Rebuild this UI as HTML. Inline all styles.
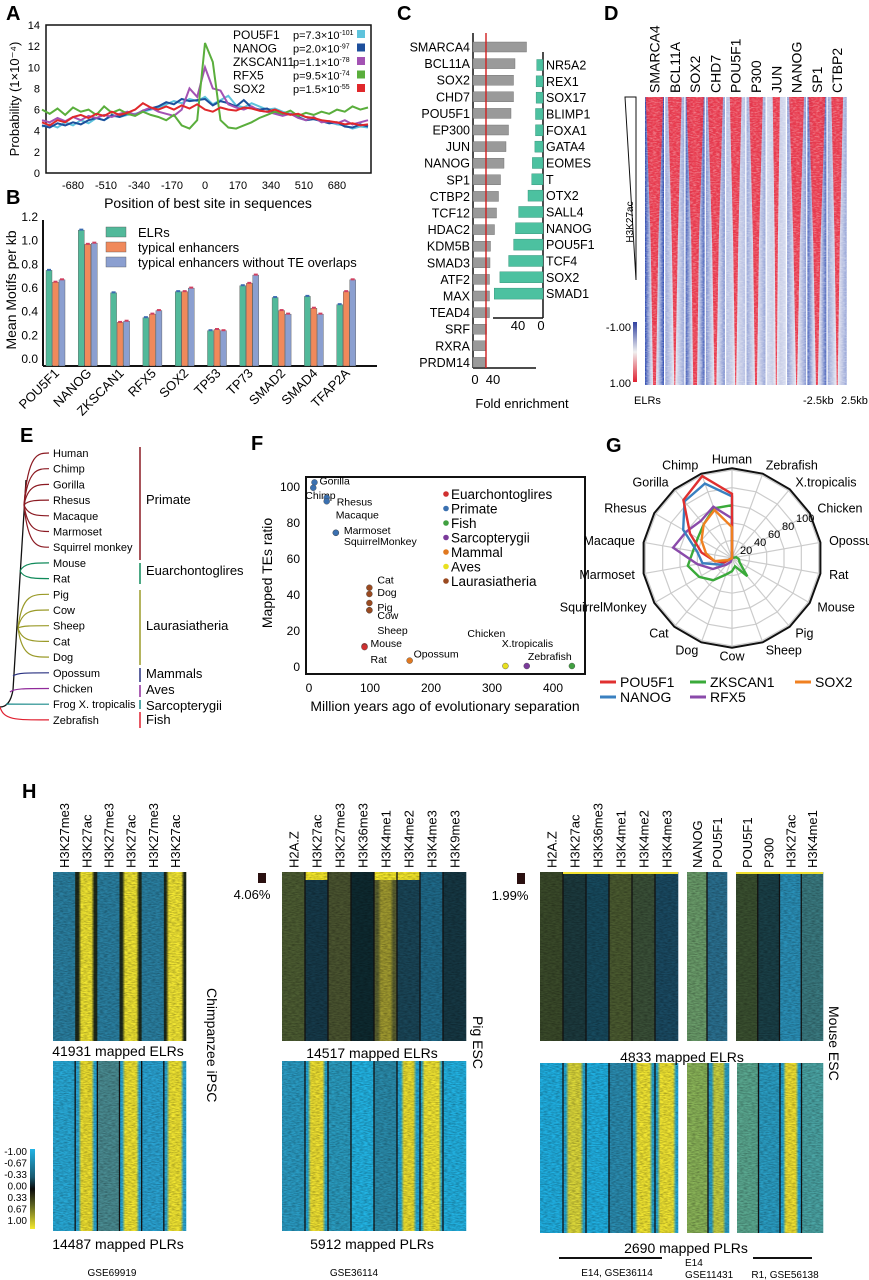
<!DOCTYPE html>
<html><head><meta charset="utf-8">
<style>
html,body{margin:0;padding:0;background:#fff;}
svg{display:block;font-family:"Liberation Sans",Arial,sans-serif;}
</style></head>
<body>
<svg id="fig" width="869" height="1280" viewBox="0 0 869 1280" xmlns="http://www.w3.org/2000/svg">
<defs>
<pattern id="hn" width="6" height="5" patternUnits="userSpaceOnUse">
<rect x="0" y="0" width="6" height="1" fill="#000" opacity="0.18"/>
<rect x="0" y="3" width="4" height="1" fill="#fff" opacity="0.10"/>
</pattern>
<filter id="streak" x="0" y="0" width="1" height="1">
<feTurbulence type="fractalNoise" baseFrequency="0.25 0.9" numOctaves="2" seed="3"/>
<feColorMatrix type="matrix" values="0 0 0 0 0  0 0 0 0 0  0 0 0 0 0  0 0 0 -1.6 1.1"/>
</filter>
<filter id="streakw" x="0" y="0" width="1" height="1">
<feTurbulence type="fractalNoise" baseFrequency="0.3 0.8" numOctaves="2" seed="7"/>
<feColorMatrix type="matrix" values="0 0 0 0 1  0 0 0 0 1  0 0 0 0 1  0 0 0 -1.8 1.1"/>
</filter>
</defs>
<g id="pA"></g>
<g id="pB"></g>
<g id="pC"></g>
<g id="pD"></g>
<g id="pE"></g>
<g id="pF"></g>
<g id="pG"></g>
<g id="pH"></g>
</svg>
<script>
// ===== Panel A data =====
const aSeriesNames = ["POU5F1","NANOG","ZKSCAN11","RFX5","SOX2"];
const aPvals = ["7.3×10","2.0×10","1.1×10","9.5×10","1.5×10"];
const aPexp = ["-101","-97","-78","-74","-55"];
const aYTicks = [0,2,4,6,8,10,12,14];
const aXTicks = [-680,-510,-340,-170,0,170,340,510,680];
const aPOU5F1 = [4.4,4.6,4.3,4.8,4.5,5.0,4.7,5.2,5.0,5.4,5.3,5.5,5.6,5.8,6.0,6.2,6.5,6.8,6.6,7.0,6.8,7.2,6.5,6.9,7.3,6.4,6.2,6.6,6.3,6.0,6.1,5.8,5.6,5.5,5.3,5.1,5.0,4.8,4.6,4.5,4.2,4.4,4.3];
const aNANOG = [4.5,4.3,4.7,4.5,4.8,4.6,5.0,5.2,5.0,5.5,5.3,5.6,5.5,5.9,6.1,6.3,6.7,6.5,7.0,6.8,6.9,7.0,6.4,6.8,6.6,6.3,6.9,6.2,6.0,6.1,5.7,5.5,5.6,5.3,5.0,5.1,4.9,4.7,4.8,4.4,4.3,4.6,4.4];
const aZKSCAN = [5.0,4.8,5.2,4.9,5.3,5.0,5.4,5.2,5.5,5.3,5.6,5.8,5.5,5.9,6.2,5.8,5.6,5.4,6.0,8.0,7.2,10.0,8.0,7.8,6.5,6.2,6.0,6.3,5.9,5.8,5.6,5.4,5.6,5.2,5.0,5.3,4.8,4.9,4.7,5.0,4.6,4.8,5.0];
const aRFX5 = [6.0,5.6,6.1,5.5,6.2,5.8,6.0,5.5,6.3,5.7,6.0,5.6,5.4,5.8,5.5,5.3,5.0,5.5,4.5,4.2,5.0,12.3,10.5,5.0,4.3,4.2,4.5,4.8,5.2,5.5,5.8,5.6,5.9,5.4,5.7,5.5,5.8,5.6,6.0,5.8,6.3,6.0,6.2];
const aSOX2 = [4.8,4.5,5.0,4.8,5.3,5.5,5.2,5.6,5.4,5.8,5.5,5.7,6.0,6.6,6.2,6.0,6.3,6.0,6.4,6.1,6.5,6.0,5.8,6.2,6.0,5.9,6.2,6.1,5.9,5.8,6.0,5.7,5.5,5.6,5.3,5.2,5.0,4.9,4.8,4.6,4.7,4.5,4.6];

// ===== Panel B data =====
const bCats = ["POU5F1","NANOG","ZKSCAN1","RFX5","SOX2","TP53","TP73","SMAD2","SMAD4","TFAP2A"];
const bELR = [0.80,1.14,0.61,0.40,0.62,0.29,0.67,0.57,0.58,0.51];
const bTyp = [0.70,1.02,0.36,0.43,0.62,0.30,0.69,0.46,0.48,0.62];
const bTypNoTE = [0.72,1.03,0.37,0.46,0.65,0.29,0.76,0.43,0.43,0.72];
const bYTicks = [0.0,0.2,0.4,0.6,0.8,1.0,1.2];
const bLegend = ["ELRs","typical enhancers","typical enhancers without TE overlaps"];

// ===== Panel C data =====
const cLeftCats = ["SMARCA4","BCL11A","SOX2","CHD7","POU5F1","EP300","JUN","NANOG","SP1","CTBP2","TCF12","HDAC2","KDM5B","SMAD3","ATF2","MAX","TEAD4","SRF","RXRA","PRDM14"];
const cLeftVals = [107,84,81,81,76,71,66,62,55,51,47,43,35,34,33,33,33,27,26,25];
const cRightCats = ["NR5A2","REX1","SOX17","BLIMP1","FOXA1","GATA4","EOMES","T","OTX2","SALL4","NANOG","POU5F1","TCF4","SOX2","SMAD1"];
const cRightVals = [10,11,11,12,12,13,17,18,24,39,44,47,55,69,78];
const cThreshold = 26;

// ===== Panel D data =====
const dCats = ["SMARCA4","BCL11A","SOX2","CHD7","POU5F1","P300","JUN","NANOG","SP1","CTBP2"];
const dRedTop = [0.92,0.72,0.92,0.8,0.62,0.72,0.38,0.78,0.88,0.62];
const dRedBottom = [0.15,0.05,0.2,0.1,0.05,0.1,0.05,0.05,0.1,0.05];
const dEdge = [1.0,0.5,0.9,0.6,0.35,0.5,0.2,0.55,0.85,0.5];

// ===== Panel E data =====
const eSpecies = ["Human","Chimp","Gorilla","Rhesus","Macaque","Marmoset","Squirrel monkey","Mouse","Rat","Pig","Cow","Sheep","Cat","Dog","Opossum","Chicken","Frog X. tropicalis","Zebrafish"];
const eClade = [0,0,0,0,0,0,0,1,1,2,2,2,2,2,3,4,5,6];
const eCladeNames = ["Primate","Euarchontoglires","Laurasiatheria","Mammals","Aves","Sarcopterygii","Fish"];

// ===== Panel F data =====
const fNames = ["Gorilla","Chimp","Rhesus","Macaque","Marmoset","SquirrelMonkey","Cat","Dog","Pig","Cow","Sheep","Mouse","Rat","Opossum","Chicken","X.tropicalis","Zebrafish"];
const fMya = [9,7,29,29,44,44,99,99,99,99,99,91,91,165,322,357,431];
const fRatio = [102,99,93.5,91.5,74,74,43.5,40,35,31,31,11,10.5,3,0,0,0];
const fGroup = [1,1,1,1,1,1,6,6,6,6,6,0,0,4,5,3,2];
const fGroupNames = ["Euarchontoglires","Primate","Fish","Sarcopterygii","Mammal","Aves","Laurasiatheria"];
const fXTicks = [0,100,200,300,400];
const fYTicks = [0,20,40,60,80,100];

// ===== Panel G data =====
const gAxes = ["Human","Zebrafish","X.tropicalis","Chicken","Opossum","Rat","Mouse","Pig","Sheep","Cow","Dog","Cat","SquirrelMonkey","Marmoset","Macaque","Rhesus","Gorilla","Chimp"];
const gPOU5F1 = [73,0,0,0,0,0,0,0,0,0,0,0,10,20,35,55,86,99];
const gNANOG = [70,0,0,0,0,0,0,0,0,0,0,0,15,34,40,64,84,90];
const gZKSCAN1 = [60,0,0,0,5,8,10,27,10,15,20,33,43,51,45,45,50,60];
const gRFX5 = [45,0,0,0,0,0,0,0,0,0,5,10,25,40,68,60,55,62];
const gSOX2 = [35,0,0,0,0,0,0,0,0,0,0,0,5,20,30,40,50,58];
const gRings = [20,40,60,80,100];

const NS="http://www.w3.org/2000/svg";
function el(tag, attrs, parent){const e=document.createElementNS(NS,tag);for(const k in attrs)e.setAttribute(k,attrs[k]);if(parent)parent.appendChild(e);return e;}
function tx(parent,x,y,s,size,anchor,extra){const t=el('text',{x:x,y:y,'font-size':size,'text-anchor':anchor||'start'},parent);if(extra)for(const k in extra)t.setAttribute(k,extra[k]);t.textContent=s;return t;}
function label(parent,x,y,s){const t=tx(parent,x,y,s,20,'start',{'font-weight':'bold'});return t;}

// ================= PANEL A =================
(function(){
const g=document.getElementById('pA');
label(g,6,20,'A');
const x0=46,x1=371,yT=25,yB=173;
const X=v=>205+v*0.1941, Y=v=>173-v*10.57;
const box=el('rect',{x:x0,y:yT,width:x1-x0,height:yB-yT,fill:'none',stroke:'#111','stroke-width':1.5},g);

aYTicks.forEach(v=>{const t=tx(g,40,Y(v)+4,String(v),11,'end');});
aXTicks.forEach(v=>{const t=tx(g,X(v),189,String(v),11,'middle');});
const yl=tx(g,0,0,'Probability (1×10⁻⁴)',13,'middle',{transform:'translate(19,99) rotate(-90)'});

const xl=tx(g,208,208,'Position of best site in sequences',14,'middle');

const series=[[aPOU5F1,'#5ec3dc'],[aNANOG,'#1d4f9c'],[aZKSCAN,'#a352b3'],[aRFX5,'#5aae3c'],[aSOX2,'#e0282b']];
[0,1,2,3,4].forEach(si=>{const [vals,col]=series[si];
 let d='';vals.forEach((v,i)=>{const xv=-840+40*i;d+=(i?'L':'M')+X(xv).toFixed(1)+' '+Y(v).toFixed(1);});
 const p=el('path',{d:d,fill:'none',stroke:col,'stroke-width':2},g);
 });
aSeriesNames.forEach((n,i)=>{const y=39+i*13.5;
 const lg=el('g',{},g);
 tx(lg,233,y,n,12);
 const t=tx(lg,293,y,'p='+aPvals[i],11);
 const ts=el('tspan',{dy:-4,'font-size':7},t);ts.textContent=aPexp[i];
 el('rect',{x:357,y:y-9,width:8,height:8,fill:series[i][1]},lg);});
})();

// ================= PANEL B =================
(function(){
const g=document.getElementById('pB');
label(g,6,204,'B');
const Y=v=>365-v*118.3;
const gx=i=>46+i*32.3;
el('line',{x1:43,y1:220,x2:43,y2:366,stroke:'#111','stroke-width':2},g);
el('line',{x1:43,y1:366,x2:377,y2:366,stroke:'#111','stroke-width':2},g);
bYTicks.forEach(v=>{const t=tx(g,38,Y(v)-2,v.toFixed(1),12,'end');});
const yl=tx(g,0,0,'Mean Motifs per kb',14,'middle',{transform:'translate(16,290) rotate(-90)'});

const cols=['#52b99a','#f0895b','#8b9fd0'];
const sets=[bELR,bTyp,bTypNoTE];
const caps=['#3a6bb0','#d04060','#d04060'];
bCats.forEach((c,i)=>{
 sets.forEach((s,k)=>{const x=gx(i)+k*6.5;const r=el('rect',{x:x,y:Y(s[i]),width:6,height:366-Y(s[i]),fill:cols[k],stroke:'#555','stroke-width':0.4},g);
  
  el('rect',{x:x+1,y:Y(s[i])-1.5,width:4,height:2,fill:caps[k]},g);});
 const t=tx(g,0,0,c,13,'end',{transform:'translate('+(gx(i)+14)+',374) rotate(-45)'});
 });
bLegend.forEach((n,k)=>{const y=232+k*15;const lg=el('g',{},g);
 el('rect',{x:106,y:y-5,width:20,height:10,fill:cols[k],stroke:'#555','stroke-width':0.4},lg);tx(lg,138,y+5,n,13);});
})();

// ================= PANEL C =================
(function(){
const g=document.getElementById('pC');
label(g,397,20,'C');
const XL=v=>473+v*0.5;
const XR=v=>543-v*0.625;
el('line',{x1:473,y1:33,x2:473,y2:368,stroke:'#111','stroke-width':1.5},g);
el('line',{x1:473,y1:368,x2:536,y2:368,stroke:'#111','stroke-width':1.5},g);
cLeftCats.forEach((c,i)=>{const y=47+i*16.6;
 const r=el('rect',{x:473,y:y-5,width:XL(cLeftVals[i])-473,height:10,fill:'#9a9a9a',stroke:'#666','stroke-width':0.4},g);
 
 const t=tx(g,470,y+4.5,c,12.5,'end');});
const rl=el('line',{x1:XL(cThreshold),y1:33,x2:XL(cThreshold),y2:368,stroke:'#d02020','stroke-width':1.4},g);

tx(g,XL(0)+2,384,'0',13,'middle');tx(g,XL(40),384,'40',13,'middle');
el('line',{x1:543,y1:52,x2:543,y2:318,stroke:'#111','stroke-width':1.5},g);
el('line',{x1:493,y1:318,x2:543,y2:318,stroke:'#111','stroke-width':1.5},g);
cRightCats.forEach((c,i)=>{const y=65+i*16.33;
 const r=el('rect',{x:XR(cRightVals[i]),y:y-5.5,width:543-XR(cRightVals[i]),height:11,fill:'#4cc1a0',stroke:'#2a8a70','stroke-width':0.4},g);
 
 const t=tx(g,546,y+4.5,c,12.5);});
tx(g,XR(40),330,'40',13,'middle');tx(g,XR(0)-2,330,'0',13,'middle');
const xt=tx(g,522,408,'Fold enrichment',13,'middle');
})();

// ================= PANEL D =================
(function(){
const g=document.getElementById('pD');
label(g,604,20,'D');
const top=97,bot=385,h=bot-top;
const defs=document.querySelector('defs');
dCats.forEach((c,i)=>{const x=645+i*20.3,w=19;
 const gid='dg'+i;const lg=el('linearGradient',{id:gid,x1:0,x2:1,y1:0,y2:0},defs);
 const e=dEdge[i];
 const blue=`rgb(${Math.round(255-e*215)},${Math.round(255-e*185)},${Math.round(255-e*80)})`;
 el('stop',{offset:0,'stop-color':blue},lg);el('stop',{offset:0.3,'stop-color':'#c8cde6'},lg);
 el('stop',{offset:0.5,'stop-color':'#eeeef5'},lg);el('stop',{offset:0.7,'stop-color':'#c8cde6'},lg);el('stop',{offset:1,'stop-color':blue},lg);
 const r=el('rect',{x:x,y:top,width:w,height:h,fill:'url(#'+gid+')'},g);
 
 const cx=x+w/2,a=dRedTop[i]*w/2,m=dRedTop[i]*w*0.22,b=dRedBottom[i]*w/2;
 el('path',{d:`M${cx-a} ${top} L${cx+a} ${top} L${cx+m} ${top+h*0.5} L${cx+b} ${bot} L${cx-b} ${bot} L${cx-m} ${top+h*0.5}Z`,fill:'#e8283c',opacity:0.9},g);
 el('rect',{x:x,y:top,width:w,height:h,fill:'#fff',filter:'url(#streakw)',opacity:0.45},g);
 const t=tx(g,0,0,c,14,'start',{transform:`translate(${cx+5},${top-4}) rotate(-90)`});
 });
el('path',{d:'M625 97 L636 97 L636 280 Z',fill:'none',stroke:'#111','stroke-width':1},g);
tx(g,0,0,'H3K27ac',10,'middle',{transform:'translate(633,222) rotate(-90)'});
const lgd=el('linearGradient',{id:'dcb',x1:0,x2:0,y1:0,y2:1},defs);
el('stop',{offset:0,'stop-color':'#3040a0'},lgd);el('stop',{offset:0.5,'stop-color':'#f0f0f0'},lgd);el('stop',{offset:1,'stop-color':'#e02030'},lgd);
const cb=el('rect',{x:633,y:322,width:4,height:60,fill:'url(#dcb)'},g);
tx(g,631,331,'-1.00',11,'end');tx(g,631,387,'1.00',11,'end');
tx(g,634,404,'ELRs',11);tx(g,803,404,'-2.5kb',11);tx(g,841,404,'2.5kb',11);
})();

// ================= PANEL E =================
(function(){
const g=document.getElementById('pE');
label(g,20,442,'E');
const cc=['#8b1a22','#108a5a','#9a9a28','#283080','#902a9a','#1a8a8a','#e02030'];
const nodes=[[24,505],[20,571],[18,628],[13,676],[10,692],[6,704],[0,707]];
const ys=eSpecies.map((s,i)=>453+i*15.7);
el('path',{d:'M0 707 Q10 707 13 690 L26 480',fill:'none',stroke:'#111','stroke-width':1.3},g);
eSpecies.forEach((s,i)=>{const y=ys[i];const n=nodes[eClade[i]];
 const p=el('path',{d:`M${n[0]} ${n[1]} C${n[0]+4} ${y}, ${n[0]+14} ${y}, 49 ${y}`,fill:'none',stroke:cc[eClade[i]],'stroke-width':1.2},g);
 
 const t=tx(g,53,y+4,s,11,'start',{'font-stretch':'condensed'});});
const spans=[[447,560,499],[563,584,570],[590,665,625],[668,682,673],[685,697,689],[700,709,705],[712,728,719]];
eCladeNames.forEach((n,k)=>{const s=spans[k];
 el('line',{x1:140,y1:s[0],x2:140,y2:s[1],stroke:cc[k],'stroke-width':1.5},g);
 const t=tx(g,146,s[2]+5,n,13);});
})();

// ================= PANEL F =================
(function(){
const g=document.getElementById('pF');
label(g,251,450,'F');
const X=v=>309+v*0.61, Y=v=>666-v*1.8;
const gc=['#d03030','#3a70b0','#40a040','#7a3a9a','#e07820','#e8e020','#9a4a20'];
el('rect',{x:306,y:477,width:279,height:197,fill:'none',stroke:'#111','stroke-width':2},g);
fYTicks.forEach(v=>{tx(g,300,Y(v)+5,String(v),12,'end');});
fXTicks.forEach(v=>{tx(g,X(v),692,String(v),12,'middle');});
const yl=tx(g,0,0,'Mapped TEs ratio',14,'middle',{transform:'translate(272,573) rotate(-90)'});
const xl=tx(g,445,711,'Million years ago of evolutionary separation',14,'middle');
const lbl={Gorilla:[5,-2],Chimp:[-8,7],Rhesus:[10,4],Macaque:[9,13],Marmoset:[8,-3],SquirrelMonkey:[8,8],Cat:[8,-8],Dog:[8,-2],Pig:[8,4],Cow:[8,5],Sheep:[8,20],Mouse:[6,-3],Rat:[6,12],Opossum:[4,-7],Chicken:[-38,-33],'X.tropicalis':[-25,-23],Zebrafish:[-44,-10]};
fNames.forEach((n,i)=>{const x=X(fMya[i]),y=Y(fRatio[i]);
 const c=el('circle',{cx:x,cy:y,r:3,fill:gc[fGroup[i]],stroke:'#444','stroke-width':0.4},g);
 
 const o=lbl[n];tx(g,x+o[0],y+o[1]+4,n,10.5);});
fGroupNames.forEach((n,k)=>{const y=494+k*14.5;const lg=el('g',{},g);
 el('circle',{cx:446,cy:y,r:2.8,fill:gc[k]},lg);tx(lg,451,y+5,n,13.5);});
})();

// ================= PANEL G =================
(function(){
const g=document.getElementById('pG');
label(g,606,452,'G');
const cx=732,cy=558,R=88;
const n=gAxes.length;
const ang=i=>(-90+i*360/n)*Math.PI/180;
const pt=(i,v)=>[cx+Math.cos(ang(i))*R*v/100,cy+Math.sin(ang(i))*R*v/100];
gRings.forEach(v=>{let d='';for(let i=0;i<n;i++){const p=pt(i,v);d+=(i?'L':'M')+p[0]+' '+p[1];}
 el('path',{d:d+'Z',fill:'none',stroke:'#ccc','stroke-width':1.2},g);});
for(let i=0;i<n;i++){const p=pt(i,100);el('line',{x1:cx,y1:cy,x2:p[0],y2:p[1],stroke:'#ccc','stroke-width':1.2},g);}
let od='';for(let i=0;i<n;i++){const p=pt(i,102);od+=(i?'L':'M')+p[0]+' '+p[1];}
const ob=el('path',{d:od+'Z',fill:'none',stroke:'#111','stroke-width':2},g);
const ser=[[gZKSCAN1,'#3aaa3a','zkscan1'],[gRFX5,'#8a4aaa','rfx5'],[gNANOG,'#3a80c0','nanog'],[gPOU5F1,'#e03030','pou5f1'],[gSOX2,'#f08020','sox2']];
ser.forEach(([vals,col,nm])=>{let d='';vals.forEach((v,i)=>{const p=pt(i,v);d+=(i?'L':'M')+p[0].toFixed(1)+' '+p[1].toFixed(1);});
 const p=el('path',{d:d+'Z',fill:'none',stroke:col,'stroke-width':2.4},g);});
gRings.forEach((v,k)=>{tx(g,cx+8+k*14,cy-4-k*8,String(v),11,'start');});
gAxes.forEach((a,i)=>{const p=pt(i,112);const c=Math.cos(ang(i));
 const anc=Math.abs(c)<0.2?'middle':(c>0?'start':'end');
 const t=tx(g,p[0],p[1]+4,a,12.5,anc);});
const leg=[['POU5F1','#e03030',600,682],['ZKSCAN1','#3aaa3a',690,682],['SOX2','#f08020',795,682],['NANOG','#3a80c0',600,697],['RFX5','#8a4aaa',690,697]];
leg.forEach(l=>{const lg=el('g',{},g);
 el('line',{x1:l[2],y1:l[3],x2:l[2]+16,y2:l[3],stroke:l[1],'stroke-width':3},lg);tx(lg,l[2]+20,l[3]+5,l[0],14);});
})();

// ================= PANEL H =================
(function(){
const g=document.getElementById('pH');
label(g,22,798,'H');
const defs=document.querySelector('defs');
let gid=0;
function heat(x,y,w,h,cols,seps,name){
 const grp=el('g',{},g);
 const cw=w/cols.length;
 cols.forEach((c,i)=>{const cx=x+i*cw;let fill=c[0];
  if(c[1]){const id='hg'+(gid++);const lg=el('linearGradient',{id:id,x1:0,x2:1,y1:0,y2:0},defs);
   const a=0.5-c[2]/2,b=0.5+c[2]/2;
   el('stop',{offset:0,'stop-color':c[0]},lg);el('stop',{offset:Math.max(0,a-0.08),'stop-color':c[0]},lg);
   el('stop',{offset:a+0.05,'stop-color':c[1]},lg);el('stop',{offset:b-0.05,'stop-color':c[1]},lg);
   el('stop',{offset:Math.min(1,b+0.08),'stop-color':c[0]},lg);el('stop',{offset:1,'stop-color':c[0]},lg);fill='url(#'+id+')';}
  el('rect',{x:cx,y:y,width:cw+0.3,height:h,fill:fill},grp);
  if(c[3])el('rect',{x:cx,y:y,width:cw,height:8,fill:'#f5e82a'},grp);});
 el('rect',{x:x,y:y,width:w,height:h,fill:'#000',filter:'url(#streak)',opacity:0.35},grp);
 if(seps)for(let i=1;i<cols.length;i++)el('line',{x1:x+i*cw,y1:y,x2:x+i*cw,y2:y+h,stroke:'#111','stroke-width':1.3},grp);
}
function labels(x,w,names){const cw=w/names.length;names.forEach((n,i)=>{const t=tx(g,0,0,n,13,'start',{transform:`translate(${x+i*cw+cw/2+5},868) rotate(-90)`});
 });}
const Y1=872,H1=169,Y2=1061,H2=170;
// Chimp
labels(53,133,['H3K27me3','H3K27ac','H3K27me3','H3K27ac','H3K27me3','H3K27ac']);
heat(53,Y1,133,H1,[['#2a80a2'],['#1e2a1c','#f2e632',0.55],['#2a80a2'],['#1e2a1c','#f2e632',0.6],['#2a80a2'],['#1e2a1c','#f4e834',0.65]],false,'heatmap-chimp-elr');
heat(53,Y2,133,H2,[['#28aad8'],['#2aa8d8','#eee030',0.55],['#4a8c92'],['#2aa8d8','#f2e632',0.6],['#2aa4d4'],['#2aa8d8','#f2e632',0.6]],true,'heatmap-chimp-plr');
tx(g,118,1056,'41931 mapped ELRs',14,'middle');
tx(g,118,1249,'14487 mapped PLRs',14,'middle');
tx(g,112,1276,'GSE69919',10,'middle');
tx(g,0,0,'Chimpanzee iPSC',14,'start',{transform:'translate(207,988) rotate(90)'});
const cbd=el('linearGradient',{id:'hcb',x1:0,x2:0,y1:0,y2:1},defs);
[['0','#22b4e6'],['0.35','#1a5a70'],['0.5','#0a0a0a'],['0.7','#5a6020'],['1','#f5ea30']].forEach(s=>el('stop',{offset:s[0],'stop-color':s[1]},cbd));
const hc=el('rect',{x:30,y:1149,width:5,height:80,fill:'url(#hcb)'},g);
['-1.00','-0.67','-0.33','0.00','0.33','0.67','1.00'].forEach((s,i)=>tx(g,27,1155+i*11.5,s,10,'end'));
// Pig
labels(282,184,['H2A.Z','H3K27ac','H3K27me3','H3K36me3','H3K4me1','H3K4me2','H3K4me3','H3K9me3']);
heat(282,Y1,184,H1,[['#4c5c32'],['#163a4a',null,0,1],['#4a5430'],['#0e2a30'],['#5a6030','#a09a30',0.5,1],['#1a4658',null,0,1],['#1f6a8a'],['#163844']],true,'heatmap-pig-elr');
heat(282,Y2,184,H2,[['#2a9cc4'],['#24a8d8','#f0e232',0.6],['#2a9cc0'],['#22b4e4'],['#2a8cac'],['#24a8d8','#eee030',0.5],['#24a8d8','#f2e632',0.7],['#22b2e2']],true,'heatmap-pig-plr');
el('rect',{x:258,y:873,width:8,height:10,fill:'#2a1010'},g);
tx(g,252,899,'4.06%',13,'middle');
tx(g,372,1058,'14517 mapped ELRs',14,'middle');
tx(g,372,1249,'5912 mapped PLRs',14,'middle');
tx(g,354,1276,'GSE36114',10,'middle');
tx(g,0,0,'Pig ESC',14,'start',{transform:'translate(473,1016) rotate(90)'});
// Mouse
labels(540,138,['H2A.Z','H3K27ac','H3K36me3','H3K4me1','H3K4me2','H3K4me3']);
labels(687,40,['NANOG','POU5F1']);
labels(736,87,['POU5F1','P300','H3K27ac','H3K4me1']);
heat(540,Y1,138,H1,[['#3a4a2a'],['#1c3a3e'],['#174a5e'],['#4a5a30'],['#3a5038'],['#1a4a62']],true,'heatmap-mouse-elr-1');
heat(687,Y1,40,H1,[['#6a9c6a'],['#2a7090']],true,'heatmap-mouse-elr-2');
heat(736,Y1,87,H1,[['#3a5030'],['#1a4048'],['#2a90b8'],['#3a7a80']],true,'heatmap-mouse-elr-3');
el('rect',{x:540+23,y:Y1,width:115,height:2,fill:'#f0e030'},g);
el('rect',{x:736,y:Y1,width:87,height:2,fill:'#f0e030'},g);
heat(540,Y2+2,138,H2,[['#20b0e2'],['#24a8d8','#dcd83a',0.6],['#20b0e2'],['#2a8cb0'],['#24a8d8','#f2e632',0.6],['#24a8d8','#f2e632',0.65]],true,'heatmap-mouse-plr-1');
heat(687,Y2+2,42,H2,[['#8ab458'],['#2aa0c8','#c8d040',0.5]],true,'heatmap-mouse-plr-2');
heat(737,Y2+2,86,H2,[['#5aa890'],['#2a9ec4'],['#24a8d8','#f0e232',0.55],['#4aa4a4']],true,'heatmap-mouse-plr-3');
el('rect',{x:517,y:873,width:8,height:11,fill:'#2a1010'},g);
tx(g,510,900,'1.99%',13,'middle');
tx(g,682,1062,'4833 mapped ELRs',14,'middle');
tx(g,686,1253,'2690 mapped PLRs',14,'middle');
el('line',{x1:559,y1:1258,x2:662,y2:1258,stroke:'#111','stroke-width':2},g);
el('line',{x1:753,y1:1258,x2:812,y2:1258,stroke:'#111','stroke-width':2},g);
tx(g,617,1276,'E14, GSE36114',10,'middle');
tx(g,685,1266,'E14',10);tx(g,685,1278,'GSE11431',10);
tx(g,785,1278,'R1, GSE56138',10,'middle');
tx(g,0,0,'Mouse ESC',14,'start',{transform:'translate(829,1006) rotate(90)'});
})();
</script>
</body></html>
